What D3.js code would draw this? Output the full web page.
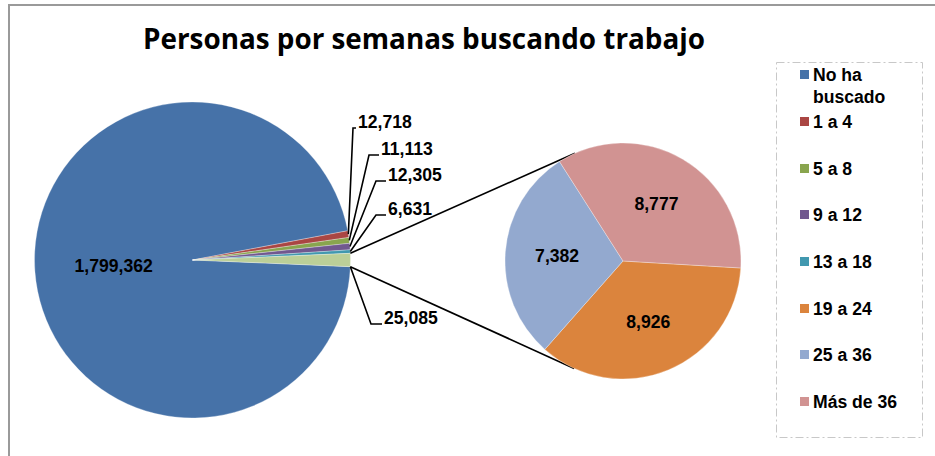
<!DOCTYPE html>
<html><head><meta charset="utf-8">
<script src="https://cdn.jsdelivr.net/npm/d3@7"></script>
<style>body{margin:0;background:#fff}svg{display:block}</style>
</head><body>
<script>
// ---- data ----
const categories = ["No ha buscado","1 a 4","5 a 8","9 a 12","13 a 18","19 a 24","25 a 36","Más de 36"];
const values = [1799362, 12718, 11113, 12305, 6631, 8926, 7382, 8777];
const secondaryCount = 3; // last 3 categories go into the secondary pie
const title = "Personas por semanas buscando trabajo";
const colors = ["#4672A8","#AA4643","#89A54E","#71588F","#4198AF","#DB843D","#93A9CF","#D19392"];
const otherColor = "#BBCF98";

// ---- layout ----
const W = 935, H = 456;
const main = {cx: 192.5, cy: 260, r: 158};
const sec = {cx: 623, cy: 261, r: 118, startDeg: 93.4};
// outer label placement for small slices (offset from main centre, elbow length)
const outerLabelLayout = [null, [164.5,-132,4],[187.5,-105,11],[194.5,-79,11],[194.5,-45,11],[190.5,64,12]];

const svg = d3.select("body").append("svg").attr("width", W).attr("height", H);

// chart frame
svg.append("path").attr("d", `M9,${H+5} L9,5 L${W+5},5`).attr("fill","none")
  .attr("stroke","#9a9a9a").attr("stroke-width",2);

svg.append("text").attr("x", 424).attr("y", 48.5).attr("text-anchor","middle")
  .attr("font-family","'Open Sans', sans-serif").attr("font-weight","bold").attr("font-size",28)
  .attr("textLength",562).attr("lengthAdjust","spacingAndGlyphs").attr("fill","#000").text(title);

const nMain = values.length - secondaryCount;
const secValues = values.slice(nMain);
const otherTotal = d3.sum(secValues);
const mainData = values.slice(0, nMain).map((v,i)=>({name:categories[i], value:v, color:colors[i]}))
  .concat([{name:"Otros", value:otherTotal, color:otherColor}]);
const total = d3.sum(mainData, d=>d.value);
const aOther = otherTotal/total*2*Math.PI;
const s0 = Math.PI/2 + aOther/2 - 2*Math.PI;
const mainArcs = d3.pie().sort(null).value(d=>d.value).startAngle(s0).endAngle(s0+2*Math.PI)(mainData);

const arcMain = d3.arc().innerRadius(0).outerRadius(main.r);
const gMain = svg.append("g").attr("transform",`translate(${main.cx},${main.cy})`);
gMain.selectAll("path").data(mainArcs).join("path").attr("d", arcMain).attr("fill", d=>d.data.color)
  .attr("stroke","#fff").attr("stroke-width",0.3);

const fmt = d3.format(",");
const labelFont = {family:"'Liberation Sans', Arial, sans-serif", size:17.6};

// main big label
const big = mainArcs[0];
gMain.append("text").attr("transform",`translate(${arcMain.centroid(big)})`)
  .attr("text-anchor","middle").attr("dy","0.35em")
  .attr("font-family",labelFont.family).attr("font-weight","bold").attr("font-size",labelFont.size)
  .text(fmt(big.data.value));

// outer labels with leader lines
mainArcs.forEach((d,i)=>{
  const L = outerLabelLayout[i]; if(!L) return;
  let ang;
  if (i === mainArcs.length-1) ang = d.endAngle; else ang = (d.startAngle+d.endAngle)/2;
  const p0 = [main.r*Math.sin(ang), -main.r*Math.cos(ang)];
  const tx = L[0], ty = L[1];
  const elbow = [tx - L[2], ty];
  gMain.append("path").attr("d", d3.line()([p0, elbow, [tx-1, ty]])).attr("fill","none")
    .attr("stroke","#000").attr("stroke-width",1.6);
  gMain.append("text").attr("x",tx+1).attr("y",ty)
    .attr("font-family",labelFont.family).attr("font-weight","bold").attr("font-size",labelFont.size)
    .text(fmt(d.value));
});

// connector lines (tangents from other slice edges to secondary pie)
const od = mainArcs[mainArcs.length-1];
function edgePt(a){ return [main.cx + main.r*Math.sin(a), main.cy - main.r*Math.cos(a)]; }
function tangent(p, sign){
  const dx = p[0]-sec.cx, dy = p[1]-sec.cy, dist = Math.hypot(dx,dy);
  const base = Math.atan2(dy,dx), t = Math.acos(sec.r/dist);
  const a = base + sign*t;
  return [sec.cx + sec.r*Math.cos(a), sec.cy + sec.r*Math.sin(a)];
}
const pTop = edgePt(od.startAngle), pBot = edgePt(od.endAngle);
svg.append("path").attr("d", d3.line()([pTop, tangent(pTop, 1)])).attr("stroke","#000").attr("stroke-width",1.6).attr("fill","none");
svg.append("path").attr("d", d3.line()([pBot, tangent(pBot, -1)])).attr("stroke","#000").attr("stroke-width",1.6).attr("fill","none");

// secondary pie
const secData = secValues.map((v,i)=>({name:categories[nMain+i], value:v, color:colors[nMain+i]}));
const sA = sec.startDeg*Math.PI/180;
const secArcs = d3.pie().sort(null).value(d=>d.value).startAngle(sA).endAngle(sA+2*Math.PI)(secData);
const arcSec = d3.arc().innerRadius(0).outerRadius(sec.r);
const arcSecLbl = d3.arc().innerRadius(0).outerRadius(sec.r*1.12);
const gSec = svg.append("g").attr("transform",`translate(${sec.cx},${sec.cy})`);
gSec.selectAll("path").data(secArcs).join("path").attr("d",arcSec).attr("fill",d=>d.data.color)
  .attr("stroke","#fff").attr("stroke-width",0.3);
gSec.selectAll("text").data(secArcs).join("text").attr("transform",d=>`translate(${arcSecLbl.centroid(d)})`)
  .attr("text-anchor","middle").attr("dy","0.35em")
  .attr("font-family",labelFont.family).attr("font-weight","bold").attr("font-size",labelFont.size)
  .text(d=>fmt(d.value));

// legend
const lg = svg.append("g");
lg.append("rect").attr("x",776.5).attr("y",62.5).attr("width",146).attr("height",375)
  .attr("fill","#fff").attr("stroke","#c8c8c8").attr("stroke-width",1).attr("stroke-dasharray","8,3,2,3");
const legendY = [75, 122, 169, 215, 262, 309, 355, 402];
categories.forEach((c,i)=>{
  const y = legendY[i];
  lg.append("rect").attr("x",800).attr("y",y-5).attr("width",9).attr("height",9).attr("fill",colors[i]);
  const t = lg.append("text").attr("x",813).attr("y",y+6)
    .attr("font-family",labelFont.family).attr("font-weight","bold").attr("font-size",labelFont.size);
  if (c === "No ha buscado") {
    t.append("tspan").attr("x",813).text("No ha");
    t.append("tspan").attr("x",813).attr("dy",22).text("buscado");
  } else t.text(c);
});
</script>
</body></html>
